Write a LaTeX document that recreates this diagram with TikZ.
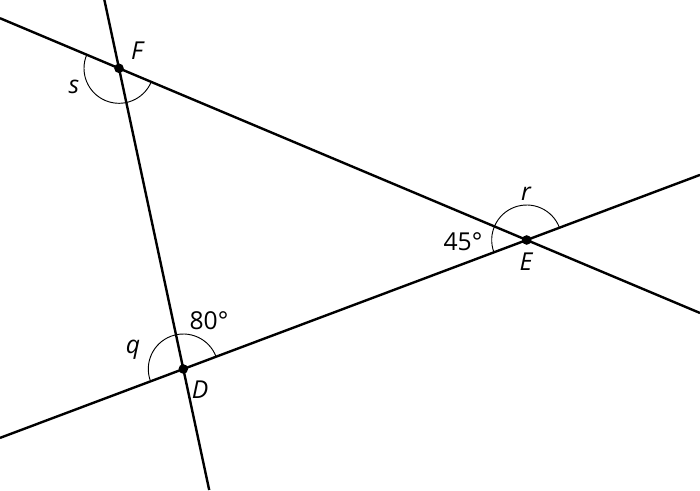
\documentclass[tikz,border=0pt]{standalone}
\usepackage{fontspec}
\setmainfont{Open Sans}

\begin{document}
\begin{tikzpicture}[x=0.75pt,y=0.75pt,
	ray/.style={line width=1.8pt},
	angarc/.style={line width=0.7pt},
	vertex/.style={circle,fill=black,inner sep=0pt,minimum size=7.2pt},
	lbl/.style={font=\fontsize{18.5}{20}\selectfont}]
	
	\useasboundingbox (0,0) rectangle (700,490);
	
	\node[vertex] (F) at (119,421.7) {};
	\node[vertex] (E) at (526.7,250) {};
	\node[vertex] (D) at (183.3,121) {};
	
	\coordinate (fdTop) at (104.4,490);
	\coordinate (fdBot) at (209.2,0);
	\coordinate (feLeft) at (0,471.8);
	\coordinate (feRight) at (700,177);
	\coordinate (deLeft) at (0,52.1);
	\coordinate (deRight) at (700,315.1);
	
	\draw[ray] (fdTop) -- (fdBot);
	\draw[ray] (feLeft) -- (feRight);
	\draw[ray] (deLeft) -- (deRight);
	
	\draw[angarc] (F.center) ++(157.16:26.25pt) arc[start angle=157.16, end angle=337.16, radius=26.25pt];
	\draw[angarc] (E.center) ++(20.59:26.25pt) arc[start angle=20.59, end angle=200.59, radius=26.25pt];
	\draw[angarc] (D.center) ++(20.59:26.25pt) arc[start angle=20.59, end angle=200.59, radius=26.25pt];
	
	\node[lbl] (lblF) at (137,439) {\itshape F};
	\node[lbl] (lblS) at (74,403) {\itshape s};
	\node[lbl] (lblR) at (526,296) {\itshape r};
	\node[lbl] (lblE) at (526,228) {\itshape E};
	\node[lbl] (ang45) at (463,248) {45°};
	\node[lbl] (ang80) at (209,169) {80°};
	\node[lbl] (lblQ) at (133,140) {\itshape q};
	\node[lbl] (lblD) at (200,100) {\itshape D};
	
\end{tikzpicture}
\end{document}
